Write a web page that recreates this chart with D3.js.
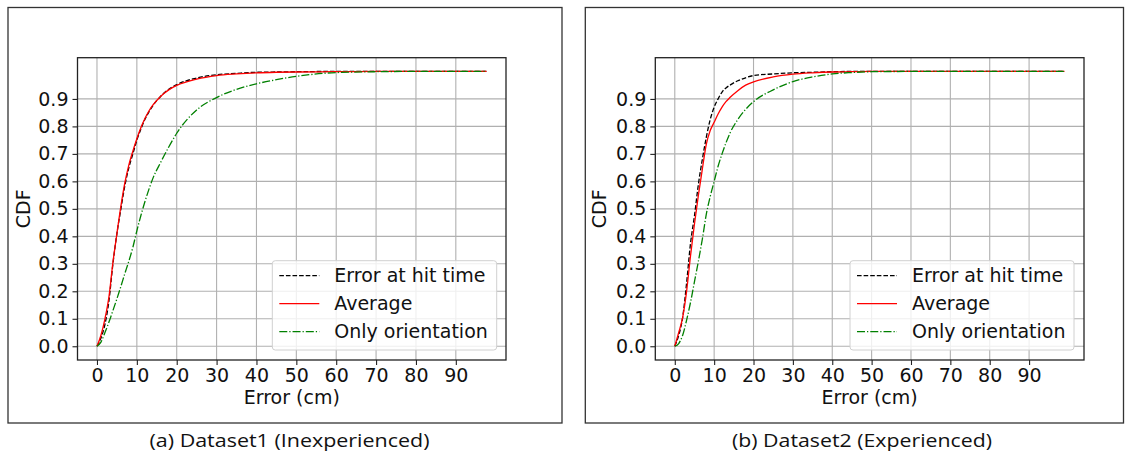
<!DOCTYPE html>
<html>
<head>
<meta charset="utf-8">
<script src="https://cdn.jsdelivr.net/npm/d3@7"></script>
<style>
  body { margin: 0; background: #fff; }
  svg { display: block; }
</style>
</head>
<body>
<div id="chart"></div>
<script>
var xs1 = [0, 1, 2, 3, 4, 5, 6, 7, 8, 9, 10, 11, 12, 13, 14, 16, 18, 20, 25, 30, 35, 40, 45, 50, 60, 70, 80, 90, 97.7];
var xs2 = [0, 1, 2, 3, 4, 5, 6, 7, 8, 9, 10, 11, 12, 13, 14, 16, 18, 20, 25, 30, 35, 40, 45, 50, 60, 70, 80, 90, 99];

// Dataset1 (Inexperienced)
var hit1    = [0, 0.03, 0.08, 0.165, 0.30, 0.41, 0.50, 0.585, 0.65, 0.70, 0.75, 0.79, 0.825, 0.852, 0.875, 0.91, 0.935, 0.952, 0.976, 0.988, 0.993, 0.997, 0.998, 0.999, 1, 1, 1, 1, 1];
var avg1    = [0, 0.04, 0.10, 0.18, 0.305, 0.41, 0.51, 0.595, 0.66, 0.71, 0.755, 0.795, 0.828, 0.855, 0.877, 0.91, 0.933, 0.949, 0.972, 0.985, 0.991, 0.995, 0.997, 0.998, 0.999, 1, 1, 1, 1];
var orient1 = [0, 0.015, 0.05, 0.088, 0.13, 0.173, 0.218, 0.265, 0.31, 0.36, 0.42, 0.475, 0.525, 0.57, 0.61, 0.67, 0.725, 0.775, 0.86, 0.905, 0.935, 0.955, 0.97, 0.982, 0.996, 0.999, 1, 1, 1];

// Dataset2 (Experienced)
var hit2    = [0, 0.04, 0.105, 0.23, 0.375, 0.475, 0.59, 0.68, 0.76, 0.825, 0.87, 0.9, 0.925, 0.94, 0.95, 0.966, 0.977, 0.985, 0.991, 0.995, 0.997, 0.999, 1, 1, 1, 1, 1, 1, 1];
var avg2    = [0, 0.05, 0.105, 0.20, 0.33, 0.445, 0.55, 0.645, 0.735, 0.785, 0.815, 0.845, 0.87, 0.89, 0.905, 0.93, 0.95, 0.962, 0.98, 0.99, 0.995, 0.998, 0.999, 1, 1, 1, 1, 1, 1];
var orient2 = [0, 0.01, 0.04, 0.095, 0.16, 0.235, 0.31, 0.39, 0.48, 0.545, 0.60, 0.655, 0.70, 0.74, 0.775, 0.825, 0.862, 0.89, 0.933, 0.963, 0.98, 0.991, 0.996, 0.999, 1, 1, 1, 1, 1];

var xTicks = [0, 10, 20, 30, 40, 50, 60, 70, 80, 90];
var yTicks = [0, 0.1, 0.2, 0.3, 0.4, 0.5, 0.6, 0.7, 0.8, 0.9];
var seriesNames = ["Error at hit time", "Average", "Only orientation"];
var seriesColors = ["#000000", "#ff0000", "#008000"];
var seriesDash = ["4.6,2", null, "8,2,1.25,2"];
var captions = ["(a) Dataset1 (Inexperienced)", "(b) Dataset2 (Experienced)"];

var W = 1132, H = 468;
var svg = d3.select("#chart").append("svg")
    .attr("width", W).attr("height", H);

var panels = [
  {frame: [8, 7.5, 554, 415.5], plot: [77.5, 57.7, 506, 360], xs: xs1, series: [hit1, avg1, orient1],
   legend: [272.3, 260.7, 224.4, 89.3], caption: captions[0], capX: 289.5, capW: 280, ylabX: 22.5},
  {frame: [585.3, 7.5, 538.2, 415.5], plot: [655.3, 57.7, 1084, 360], xs: xs2, series: [hit2, avg2, orient2],
   legend: [850, 260.7, 224, 89.3], caption: captions[1], capX: 862, capW: 260, ylabX: 599}
];

var font = "DejaVu Sans, sans-serif";

panels.forEach(function(p) {
  var g = svg.append("g");

  // outer box around each subfigure
  g.append("rect")
      .attr("x", p.frame[0]).attr("y", p.frame[1])
      .attr("width", p.frame[2]).attr("height", p.frame[3])
      .attr("fill", "none").attr("stroke", "#333").attr("stroke-width", 1.3);

  var xmax = p.xs[p.xs.length - 1];
  var x = d3.scaleLinear().domain([-0.05 * xmax, 1.05 * xmax]).range([p.plot[0], p.plot[2]]);
  var y = d3.scaleLinear().domain([-0.05, 1.05]).range([p.plot[3], p.plot[1]]);

  // grid
  g.append("g").selectAll("line").data(xTicks).enter().append("line")
      .attr("x1", function(d) { return x(d); }).attr("x2", function(d) { return x(d); })
      .attr("y1", p.plot[1]).attr("y2", p.plot[3])
      .attr("stroke", "#b0b0b0").attr("stroke-width", 1.1);
  g.append("g").selectAll("line").data(yTicks).enter().append("line")
      .attr("y1", function(d) { return y(d); }).attr("y2", function(d) { return y(d); })
      .attr("x1", p.plot[0]).attr("x2", p.plot[2])
      .attr("stroke", "#b0b0b0").attr("stroke-width", 1.1);

  // axes
  var xAxis = d3.axisBottom(x).tickValues(xTicks).tickSize(5).tickPadding(4).tickFormat(d3.format("d"));
  var yAxis = d3.axisLeft(y).tickValues(yTicks).tickSize(5).tickPadding(4).tickFormat(d3.format(".1f"));

  var gx = g.append("g").attr("transform", "translate(0," + p.plot[3] + ")").call(xAxis);
  var gy = g.append("g").attr("transform", "translate(" + p.plot[0] + ",0)").call(yAxis);
  [gx, gy].forEach(function(a) {
    a.select(".domain").remove();
    a.selectAll("line").attr("stroke", "#222").attr("stroke-width", 1.1);
    a.selectAll("text").attr("fill", "#111").style("font-family", font).style("font-size", "19px");
  });

  // lines
  var line = d3.line()
      .x(function(d) { return x(d[0]); })
      .y(function(d) { return y(d[1]); })
      .curve(d3.curveMonotoneX);

  p.series.forEach(function(vals, i) {
    var pts = p.xs.map(function(v, j) { return [v, vals[j]]; });
    g.append("path")
        .datum(pts)
        .attr("d", line)
        .attr("fill", "none")
        .attr("stroke", seriesColors[i])
        .attr("stroke-width", 1.3)
        .attr("stroke-dasharray", seriesDash[i]);
  });

  // spines
  g.append("rect")
      .attr("x", p.plot[0]).attr("y", p.plot[1])
      .attr("width", p.plot[2] - p.plot[0]).attr("height", p.plot[3] - p.plot[1])
      .attr("fill", "none").attr("stroke", "#222").attr("stroke-width", 1.3);

  // axis labels
  g.append("text")
      .attr("x", (p.plot[0] + p.plot[2]) / 2).attr("y", 404)
      .attr("text-anchor", "middle")
      .style("font-family", font).style("font-size", "19px").attr("fill", "#111")
      .text("Error (cm)");
  g.append("text")
      .attr("transform", "translate(" + (p.ylabX + 7) + "," + ((p.plot[1] + p.plot[3]) / 2) + ") rotate(-90)")
      .attr("text-anchor", "middle")
      .style("font-family", font).style("font-size", "19px").attr("fill", "#111")
      .text("CDF");

  // legend
  var lg = g.append("g").attr("transform", "translate(" + p.legend[0] + "," + p.legend[1] + ")");
  lg.append("rect")
      .attr("width", p.legend[2]).attr("height", p.legend[3])
      .attr("rx", 3).attr("ry", 3)
      .attr("fill", "#fff").attr("fill-opacity", 0.8)
      .attr("stroke", "#d0d0d0").attr("stroke-width", 1);
  seriesNames.forEach(function(name, i) {
    var cy = 15 + i * 28;
    lg.append("line")
        .attr("x1", 7).attr("x2", 47).attr("y1", cy).attr("y2", cy)
        .attr("stroke", seriesColors[i]).attr("stroke-width", 1.3)
        .attr("stroke-dasharray", seriesDash[i]);
    lg.append("text")
        .attr("x", 62).attr("y", cy).attr("dy", "0.35em")
        .style("font-family", font).style("font-size", "19px").attr("fill", "#111")
        .text(name);
  });

  // caption
  g.append("text")
      .attr("x", p.capX).attr("y", 447)
      .attr("text-anchor", "middle")
      .attr("textLength", p.capW).attr("lengthAdjust", "spacingAndGlyphs")
      .style("font-family", "Open Sans, sans-serif").style("font-size", "19px").attr("fill", "#111")
      .text(p.caption);
});
</script>
</body>
</html>
